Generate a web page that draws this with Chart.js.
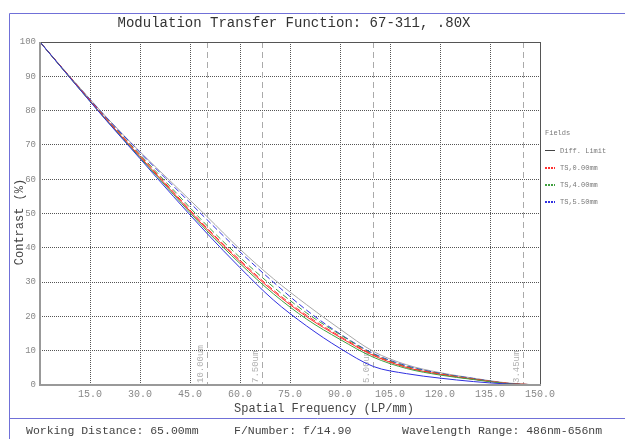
<!DOCTYPE html>
<html>
<head>
<meta charset="utf-8">
<script src="https://cdn.jsdelivr.net/npm/chart.js@4.4.0/dist/chart.umd.min.js"></script>
<style>
  html, body { margin: 0; padding: 0; background: #fff; }
  #wrap { width: 625px; height: 439px; position: relative; }
</style>
</head>
<body>
<div id="wrap"><canvas id="mtf" width="625" height="439"></canvas></div>
<script>
// spatial frequency samples (LP/mm)
const freqs = [0, 10, 20, 30, 40, 50, 60, 70, 80, 90, 100, 110, 120, 130, 140, 150];

// contrast values (%)
const diffLimit = [100, 88.8, 78.0, 68.0, 58.6, 49.2, 39.6, 31.0, 23.4, 16.3, 9.8, 5.9, 3.6, 2.0, 0.6, 0];
const ts000T    = [100, 88.5, 77.3, 66.6, 56.0, 45.5, 36.0, 27.3, 19.9, 13.9, 8.6, 5.1, 3.1, 1.7, 0.5, 0];
const ts000S    = [100, 88.6, 77.5, 66.9, 56.3, 45.9, 36.4, 27.7, 20.3, 14.2, 8.8, 5.2, 3.2, 1.7, 0.5, 0];
const ts400T    = [100, 88.4, 77.1, 66.3, 55.6, 45.0, 35.4, 26.6, 19.2, 13.3, 8.1, 4.8, 2.9, 1.6, 0.4, 0];
const ts400S    = [100, 88.6, 77.6, 67.2, 56.9, 46.6, 37.2, 28.6, 21.0, 14.7, 9.0, 5.4, 3.3, 1.8, 0.5, 0];
const ts550T    = [100, 88.4, 77.0, 66.0, 55.0, 44.3, 34.2, 24.8, 17.2, 10.7, 5.4, 3.3, 2.0, 1.0, 0.3, 0];
const ts550S    = [100, 88.7, 77.9, 67.8, 58.0, 48.3, 38.8, 30.0, 21.8, 14.9, 9.2, 5.6, 3.4, 1.9, 0.5, 0];

// pixel-size reference lines (Nyquist frequencies)
const refFreqs = [50, 66.7, 100, 145];
const refLabels = ['10.00um', '7.50um', '5.00um', '3.45um'];

const legendLabels = ['Diff. Limit', 'TS,0.00mm', 'TS,4.00mm', 'TS,5.50mm'];
const legendColors = ['#444444', '#ff3030', '#40a040', '#3030e0'];

const titleText = 'Modulation Transfer Function: 67-311, .80X';
const xTitle = 'Spatial Frequency (LP/mm)';
const yTitle = 'Contrast (%)';
const footerTexts = ['Working Distance: 65.00mm', 'F/Number: f/14.90', 'Wavelength Range: 486nm-656nm'];

const MONO = '"Liberation Mono", "Courier New", monospace';

function pts(vals) {
  return freqs.map((f, i) => ({ x: f, y: vals[i] }));
}

function ds(vals, color, dashed) {
  return {
    data: pts(vals),
    borderColor: color,
    borderWidth: 1,
    borderDash: dashed ? [6, 3] : [],
    pointRadius: 0,
    cubicInterpolationMode: 'monotone',
    fill: false
  };
}

const decorPlugin = {
  id: 'decor',
  beforeDatasetsDraw(chart) {
    const ctx = chart.ctx;
    const xs = chart.scales.x;
    const a = chart.chartArea;
    ctx.save();
    // dashed reference lines with rotated labels
    ctx.strokeStyle = '#aaaaaa';
    ctx.setLineDash([6, 4]);
    ctx.lineWidth = 1;
    ctx.font = '9px ' + MONO;
    ctx.fillStyle = '#b0b0b0';
    refFreqs.forEach((f, i) => {
      const px = Math.round(xs.getPixelForValue(f)) + 0.5;
      ctx.beginPath();
      ctx.moveTo(px, a.top);
      ctx.lineTo(px, a.bottom);
      ctx.stroke();
      ctx.save();
      ctx.translate(px - 2, a.bottom - 2);
      ctx.rotate(-Math.PI / 2);
      ctx.textAlign = 'left';
      ctx.textBaseline = 'bottom';
      ctx.fillText(refLabels[i], 0, 0);
      ctx.restore();
    });
    ctx.restore();
  },
  afterDraw(chart) {
    const ctx = chart.ctx;
    const a = chart.chartArea;
    ctx.save();
    // plot border
    ctx.setLineDash([]);
    ctx.strokeStyle = '#555555';
    ctx.lineWidth = 1;
    ctx.beginPath();
    ctx.moveTo(a.left, a.top + 0.5);
    ctx.lineTo(a.right + 0.5, a.top + 0.5);
    ctx.lineTo(a.right + 0.5, a.bottom);
    ctx.stroke();
    ctx.strokeStyle = '#999999';
    ctx.lineWidth = 2;
    ctx.beginPath();
    ctx.moveTo(a.left, a.top);
    ctx.lineTo(a.left, a.bottom);
    ctx.lineTo(a.right + 1, a.bottom);
    ctx.stroke();

    // outer frame
    ctx.strokeStyle = '#7070d8';
    ctx.lineWidth = 1;
    ctx.beginPath();
    ctx.moveTo(9.5, 439);
    ctx.lineTo(9.5, 13.5);
    ctx.lineTo(625, 13.5);
    ctx.moveTo(9.5, 418.5);
    ctx.lineTo(625, 418.5);
    ctx.stroke();

    // title
    ctx.fillStyle = '#333333';
    ctx.font = '14px ' + MONO;
    ctx.textAlign = 'center';
    ctx.textBaseline = 'middle';
    ctx.fillText(titleText, 294, 23);

    // axis titles
    ctx.fillStyle = '#444444';
    ctx.font = '12px ' + MONO;
    ctx.fillText(xTitle, 324, 409);
    ctx.save();
    ctx.translate(20, 222);
    ctx.rotate(-Math.PI / 2);
    ctx.fillText(yTitle, 0, 0);
    ctx.restore();

    // footer
    ctx.font = '11.5px ' + MONO;
    ctx.textAlign = 'left';
    ctx.fillStyle = '#444444';
    ctx.fillText(footerTexts[0], 26, 431);
    ctx.fillText(footerTexts[1], 234, 431);
    ctx.fillText(footerTexts[2], 402, 431);

    // legend
    ctx.font = '7px ' + MONO;
    ctx.fillStyle = '#777777';
    ctx.fillText('Fields', 545, 133);
    legendLabels.forEach((lab, i) => {
      const y = 150 + i * 17;
      ctx.strokeStyle = legendColors[i];
      ctx.lineWidth = 1;
      ctx.setLineDash(i === 0 ? [] : [2, 1]);
      ctx.beginPath();
      ctx.moveTo(545, y + 0.5);
      ctx.lineTo(555, y + 0.5);
      ctx.stroke();
      if (i > 0) {
        ctx.beginPath();
        ctx.moveTo(545, y + 1.5);
        ctx.lineTo(555, y + 1.5);
        ctx.stroke();
      }
      ctx.fillStyle = '#777777';
      ctx.fillText(lab, 560, y + 1);
    });
    ctx.restore();
  }
};

new Chart(document.getElementById('mtf'), {
  type: 'line',
  data: {
    datasets: [
      ds(ts550T, '#3030e0', false),
      ds(ts400T, '#40a040', false),
      ds(ts000T, '#ff3030', false),
      ds(ts000S, '#ff3030', true),
      ds(ts400S, '#40a040', true),
      ds(ts550S, '#3030e0', true),
      ds(diffLimit, '#a8a8a8', false)
    ]
  },
  options: {
    responsive: false,
    animation: false,
    devicePixelRatio: 1,
    layout: { padding: { left: 10, right: 85, top: 42, bottom: 20 } },
    plugins: { legend: { display: false }, tooltip: { enabled: false } },
    scales: {
      x: {
        type: 'linear',
        min: 0,
        max: 150,
        afterFit(s) { s.height = 34; },
        grid: { color: '#555555', drawTicks: false },
        border: { display: false, dash: [1, 1] },
        ticks: {
          stepSize: 15,
          padding: 3,
          maxRotation: 0,
          autoSkip: false,
          color: '#888888',
          font: { family: MONO, size: 10 },
          callback: v => (v === 0 ? '' : v.toFixed(1))
        }
      },
      y: {
        min: 0,
        max: 100,
        afterFit(s) { s.width = 30; },
        grid: { color: '#555555', drawTicks: false },
        border: { display: false, dash: [1, 1] },
        ticks: {
          stepSize: 10,
          padding: 4,
          autoSkip: false,
          color: '#888888',
          font: { family: MONO, size: 9 }
        }
      }
    }
  },
  plugins: [decorPlugin]
});
</script>
</body>
</html>
